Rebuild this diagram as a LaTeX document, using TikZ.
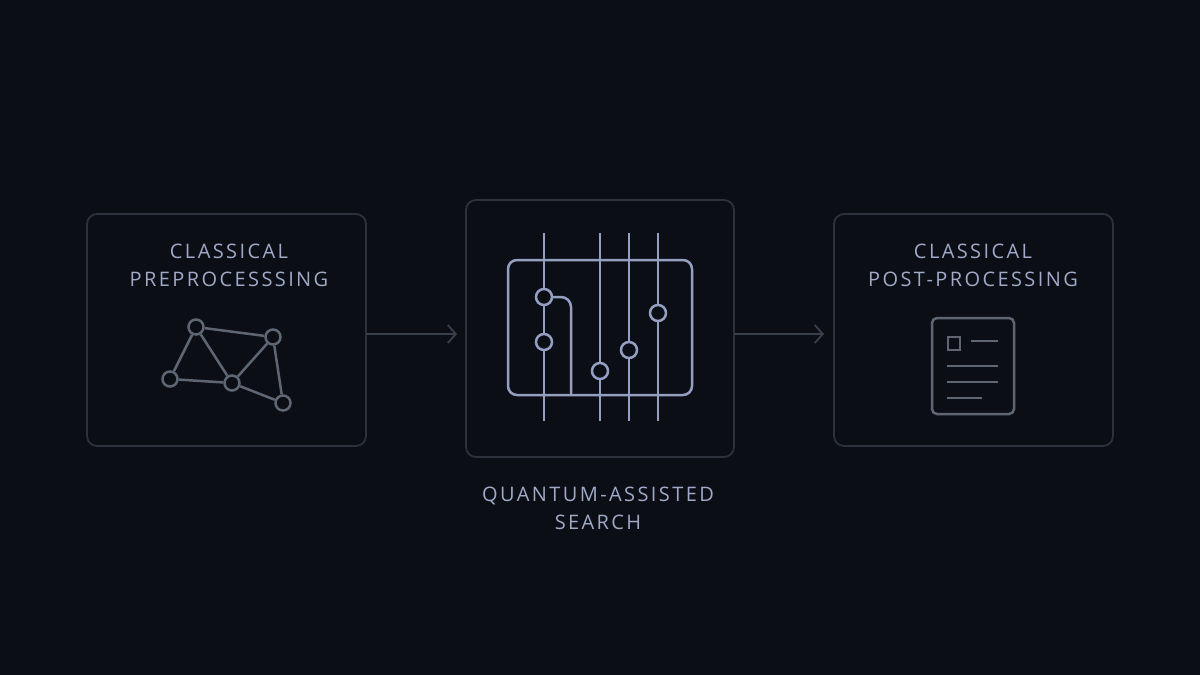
\documentclass[tikz,border=0pt]{standalone}
\usepackage{fontspec}
\setmainfont[LetterSpace=12]{Open Sans}
\usetikzlibrary{positioning,arrows.meta}
\definecolor{bgdark}{HTML}{0B0E15}
\definecolor{frame}{HTML}{2C313B}
\definecolor{label}{HTML}{A0A9C8}
\definecolor{qline}{HTML}{959FC2}
\definecolor{grey}{HTML}{5F6673}
\definecolor{arrow}{HTML}{3A404B}
\tikzset{
  stage/.style = {draw=frame, line width=1.8pt, rounded corners=10pt},
  title/.style = {text=label, font=\fontsize{20}{28}\selectfont, align=center},
  vertex/.style = {circle, draw=grey, line width=2.5pt, fill=bgdark, inner sep=0pt, minimum size=15pt},
  qubit/.style = {circle, draw=qline, line width=2.5pt, fill=bgdark, inner sep=0pt, minimum size=16pt},
  flow/.style = {draw=arrow, line width=1.8pt, -{Straight Barb[length=8pt,width=18pt,line width=1.8pt]}}
}
\begin{document}
\begin{tikzpicture}[x=1pt,y=-1pt]
\fill[bgdark] (0,0) rectangle (1200,675);
\useasboundingbox (0,0) rectangle (1200,675);

% stages
\draw[stage] (87,214) rectangle (366,446);
\draw[stage] (466,200) rectangle (734,457);
\draw[stage] (834,214) rectangle (1113,446);
\coordinate (pre) at (366,334);
\coordinate (qin) at (457,334);
\coordinate (qout) at (734,334);
\coordinate (post) at (824,334);
\draw[flow] (pre) -- (qin);
\draw[flow] (qout) -- (post);

\node[title] (pretitle) at (229,265) {CLASSICAL\\PREPROCESSSING};
\node[title] (posttitle) at (973,265) {CLASSICAL\\POST-PROCESSING};
\node[title] (qtitle) at (598,508) {QUANTUM-ASSISTED\\SEARCH};

% graph
\node[vertex] (ga) at (196,327) {};
\node[vertex] (gb) at (273,337) {};
\node[vertex] (gc) at (170,379) {};
\node[vertex] (gd) at (232,383) {};
\node[vertex] (ge) at (283,403) {};
\begin{scope}[draw=grey, line width=2.5pt]
\foreach \u/\v in {ga/gb, ga/gc, ga/gd, gb/gd, gb/ge, gc/gd, gd/ge}
  \draw (\u) -- (\v);
\end{scope}

% circuit
\draw[qline, line width=2.5pt, rounded corners=9pt] (508,260) rectangle (692,395);
\foreach \x in {544,600,629,658}
  \draw[qline, line width=2.5pt] (\x,233) -- (\x,421);
\draw[qline, line width=2.5pt, rounded corners=10pt] (544,297) -- (571,297) -- (571,395);
\node[qubit] (q1) at (544,297) {};
\node[qubit] (q2) at (544,342) {};
\node[qubit] (q3) at (600,371) {};
\node[qubit] (q4) at (629,350) {};
\node[qubit] (q5) at (658,313) {};

% document
\begin{scope}[draw=grey, line width=2.5pt]
\draw[rounded corners=5pt] (932,318) rectangle (1014,414);
\draw (948,337) rectangle (960,350);
\draw (971,341) -- (998,341);
\draw (947,366) -- (998,366);
\draw (947,382) -- (998,382);
\draw (947,398) -- (982,398);
\end{scope}
\end{tikzpicture}
\end{document}
